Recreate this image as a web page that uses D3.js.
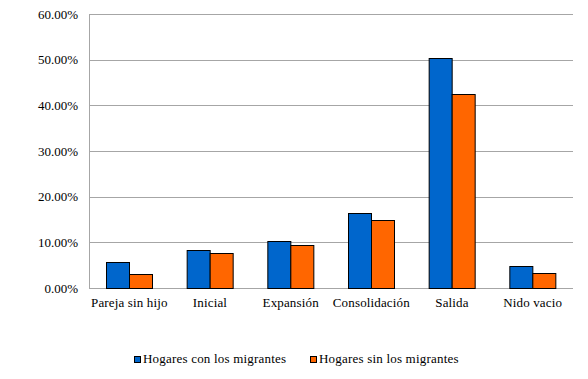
<!DOCTYPE html>
<meta charset="utf-8">
<style>
body { margin: 0; background: #fff; }
</style>
<body>
<script src="https://d3js.org/d3.v7.min.js"></script>
<script>
var categories = ["Pareja sin hijo", "Inicial", "Expansión", "Consolidación", "Salida", "Nido vacio"];
var seriesNames = ["Hogares con los migrantes", "Hogares sin los migrantes"];
var conMigrantes = [5.6, 8.25, 10.2, 16.35, 50.3, 4.75];
var sinMigrantes = [3.0, 7.6, 9.35, 15.0, 42.4, 3.2];
var yTicks = [0, 10, 20, 30, 40, 50, 60];
var colors = ["#0066cc", "#ff6600"];

var width = 588, height = 379;
var margin = {top: 14, right: 15, bottom: 91, left: 89};
var fontFamily = "'Liberation Serif'";

var svg = d3.select("body").append("svg")
    .attr("width", width)
    .attr("height", height)
    .style("font-family", fontFamily)
    .style("font-size", "13px");

var x = d3.scaleBand()
    .domain(categories)
    .range([margin.left, width - margin.right]);

var xInner = d3.scaleBand()
    .domain([0, 1])
    .range([0, x.bandwidth()])
    .paddingInner(0)
    .paddingOuter(0.76);

var y = d3.scaleLinear()
    .domain([0, 60])
    .range([height - margin.bottom, margin.top]);

// gridlines
svg.append("g")
    .selectAll("line")
    .data(yTicks)
    .join("line")
    .attr("x1", margin.left)
    .attr("x2", width - margin.right)
    .attr("y1", d => Math.round(y(d)) + 0.5)
    .attr("y2", d => Math.round(y(d)) + 0.5)
    .attr("stroke", "#a6a6a6");

svg.append("line")
    .attr("x1", margin.left + 0.5)
    .attr("x2", margin.left + 0.5)
    .attr("y1", y(60))
    .attr("y2", y(0) + 0.5)
    .attr("stroke", "#a6a6a6");

// y tick labels
svg.append("g")
    .selectAll("text")
    .data(yTicks)
    .join("text")
    .style("font-family", fontFamily)
    .attr("x", margin.left - 11)
    .attr("y", d => y(d) + 4.5)
    .attr("text-anchor", "end")
    .text(d => d3.format(".2f")(d) + "%");

// bars
var rows = categories.map((c, i) => ({cat: c, vals: [conMigrantes[i], sinMigrantes[i]]}));
var groups = svg.append("g")
    .selectAll("g")
    .data(rows)
    .join("g")
    .attr("transform", d => "translate(" + x(d.cat) + ",0)");

groups.selectAll("rect")
    .data(d => d.vals.map((v, k) => ({k: k, v: v})))
    .join("rect")
    .attr("x", d => Math.round(xInner(d.k)) + 0.5)
    .attr("width", Math.round(xInner.bandwidth()))
    .attr("y", d => Math.round(y(d.v)) + 0.5)
    .attr("height", d => Math.round(y(0)) - Math.round(y(d.v)))
    .attr("fill", d => colors[d.k])
    .attr("stroke", "#000");

// category labels
svg.append("g")
    .selectAll("text")
    .data(categories)
    .join("text")
    .style("font-family", fontFamily)
    .attr("x", d => x(d) + x.bandwidth() / 2)
    .attr("y", 307)
    .attr("text-anchor", "middle")
    .attr("letter-spacing", "0.15px")
    .text(d => d);

// legend
var legendX = [134, 310];
var legend = svg.append("g")
    .selectAll("g")
    .data(seriesNames)
    .join("g")
    .attr("transform", (d, i) => "translate(" + legendX[i] + ",356)");

legend.append("rect")
    .attr("x", 0.5)
    .attr("y", 0.5)
    .attr("width", 6)
    .attr("height", 6)
    .attr("fill", (d, i) => colors[i])
    .attr("stroke", "#000");

legend.append("text")
    .style("font-family", fontFamily)
    .attr("x", 9)
    .attr("y", 6.5)
    .attr("letter-spacing", "0.2px")
    .text(d => d);
</script>
</body>
